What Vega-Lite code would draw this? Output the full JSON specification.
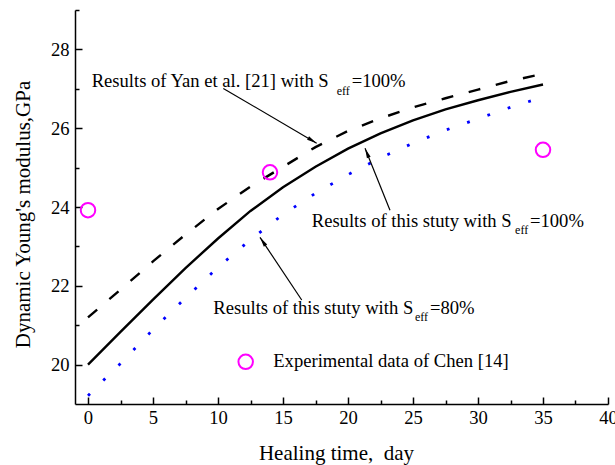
{
  "$schema": "https://vega.github.io/schema/vega-lite/v6.json",
  "width": 533,
  "height": 394,
  "autosize": "none",
  "padding": {"left": 75, "top": 10, "right": 7, "bottom": 61},
  "background": "white",
  "config": {"view": {"stroke": null}, "font": "Liberation Serif"},
  "datasets": {
    "curves": [
      {"s": "yan", "x": 0, "y": 21.2}, {"s": "yan", "x": 2.5, "y": 21.9}, {"s": "yan", "x": 5, "y": 22.62}, {"s": "yan", "x": 7.5, "y": 23.3}, {"s": "yan", "x": 10, "y": 23.95}, {"s": "yan", "x": 12.5, "y": 24.52}, {"s": "yan", "x": 15, "y": 25.02}, {"s": "yan", "x": 17.5, "y": 25.52}, {"s": "yan", "x": 20, "y": 25.93}, {"s": "yan", "x": 22.5, "y": 26.25}, {"s": "yan", "x": 25, "y": 26.53}, {"s": "yan", "x": 27.5, "y": 26.76}, {"s": "yan", "x": 30, "y": 26.98}, {"s": "yan", "x": 32.5, "y": 27.2}, {"s": "yan", "x": 35, "y": 27.38},
      {"s": "s100", "x": 0, "y": 20.0}, {"s": "s100", "x": 2.5, "y": 20.83}, {"s": "s100", "x": 5, "y": 21.65}, {"s": "s100", "x": 7.5, "y": 22.45}, {"s": "s100", "x": 10, "y": 23.2}, {"s": "s100", "x": 12.5, "y": 23.9}, {"s": "s100", "x": 15, "y": 24.5}, {"s": "s100", "x": 17.5, "y": 25.02}, {"s": "s100", "x": 20, "y": 25.48}, {"s": "s100", "x": 22.5, "y": 25.87}, {"s": "s100", "x": 25, "y": 26.2}, {"s": "s100", "x": 27.5, "y": 26.48}, {"s": "s100", "x": 30, "y": 26.71}, {"s": "s100", "x": 32.5, "y": 26.92}, {"s": "s100", "x": 35, "y": 27.11},
      {"s": "s80", "x": 0, "y": 19.21}, {"s": "s80", "x": 2.5, "y": 20.03}, {"s": "s80", "x": 5, "y": 20.89}, {"s": "s80", "x": 7.5, "y": 21.69}, {"s": "s80", "x": 10, "y": 22.47}, {"s": "s80", "x": 12.5, "y": 23.17}, {"s": "s80", "x": 15, "y": 23.81}, {"s": "s80", "x": 17.5, "y": 24.35}, {"s": "s80", "x": 20, "y": 24.82}, {"s": "s80", "x": 22.5, "y": 25.25}, {"s": "s80", "x": 25, "y": 25.62}, {"s": "s80", "x": 27.5, "y": 25.95}, {"s": "s80", "x": 30, "y": 26.24}, {"s": "s80", "x": 32.5, "y": 26.53}, {"s": "s80", "x": 35, "y": 26.79}
    ],
    "exp": [
      {"x": 0, "y": 23.92}, {"x": 14, "y": 24.88}, {"x": 35, "y": 25.45}
    ],
    "legend": [
      {"x": 12.13, "y": 20.07}
    ],
    "texts": [
      {"k": "main", "t": "Results of Yan et al. [21] with S", "x": 0.28, "y": 27.05},
      {"k": "sub", "t": "eff", "x": 19.13, "y": 26.84},
      {"k": "main", "t": "=100%", "x": 20.28, "y": 27.05},
      {"k": "main", "t": "Results of this stuty with S", "x": 17.21, "y": 23.5},
      {"k": "sub", "t": "eff", "x": 32.85, "y": 23.31},
      {"k": "main", "t": "=100%", "x": 34.0, "y": 23.5},
      {"k": "main", "t": "Results of this stuty with S", "x": 9.64, "y": 21.28},
      {"k": "sub", "t": "eff", "x": 25.15, "y": 21.11},
      {"k": "main", "t": "=80%", "x": 26.3, "y": 21.28},
      {"k": "main", "t": "Experimental data of Chen [14]", "x": 14.25, "y": 19.93}
    ],
    "arrows": [
      {"id": "a1", "x": 10.41, "y": 27.01, "x2": 17.59, "y2": 25.62},
      {"id": "a2", "x": 23.23, "y": 23.92, "x2": 21.31, "y2": 25.49},
      {"id": "a3", "x": 16.44, "y": 21.64, "x2": 13.23, "y2": 23.23}
    ],
    "heads": [
      {"id": "a1", "x": 17.59, "y": 25.62},
      {"id": "a2", "x": 21.31, "y": 25.49},
      {"id": "a3", "x": 13.23, "y": 23.23}
    ]
  },
  "encoding": {
    "x": {"field": "x", "type": "quantitative", "scale": {"domain": [-1, 40], "nice": false, "zero": false},
      "axis": {
        "title": "Healing time,\u00a0 day",
        "values": [0, 2.5, 5, 7.5, 10, 12.5, 15, 17.5, 20, 22.5, 25, 27.5, 30, 32.5, 35, 37.5, 40],
        "format": ".0f",
        "labelExpr": "datum.value % 5 === 0 ? datum.label : ''",
        "tickSize": {"condition": {"test": "datum.value % 5 === 0", "value": -7}, "value": -4},
        "grid": false, "domainColor": "black", "domainWidth": 1.5, "tickColor": "black", "tickWidth": 1.5,
        "labelFont": "Liberation Serif", "labelFontSize": 18.6, "labelColor": "black", "labelPadding": 11, "labelFlush": false,
        "titleFont": "Liberation Serif", "titleFontSize": 21, "titleFontWeight": "normal", "titleColor": "black", "titlePadding": 16,
        "titleX": 261
      }},
    "y": {"field": "y", "type": "quantitative", "scale": {"domain": [19, 29], "nice": false, "zero": false},
      "axis": {
        "title": "Dynamic Young's modulus,GPa",
        "values": [20, 21, 22, 23, 24, 25, 26, 27, 28, 29],
        "format": "d",
        "labelExpr": "datum.value % 2 === 0 ? datum.label : ''",
        "tickSize": {"condition": {"test": "datum.value % 2 === 0", "value": -7}, "value": -4},
        "grid": false, "domainColor": "black", "domainWidth": 1.5, "tickColor": "black", "tickWidth": 1.5,
        "labelFont": "Liberation Serif", "labelFontSize": 18.6, "labelColor": "black", "labelPadding": 13, "labelFlush": false,
        "titleFont": "Liberation Serif", "titleFontSize": 21, "titleFontWeight": "normal", "titleColor": "black", "titlePadding": 17,
        "titleY": 204
      }}
  },
  "layer": [
    {
      "data": {"name": "curves"},
      "transform": [{"filter": "datum.s === 'yan'"}],
      "mark": {"type": "line", "color": "black", "strokeWidth": 2.4, "strokeDash": [12, 16], "strokeCap": "butt"}
    },
    {
      "data": {"name": "curves"},
      "transform": [{"filter": "datum.s === 's100'"}],
      "mark": {"type": "line", "color": "black", "strokeWidth": 2.4}
    },
    {
      "data": {"name": "curves"},
      "transform": [{"filter": "datum.s === 's80'"}],
      "mark": {"type": "line", "color": "#0000ff", "strokeWidth": 2.8, "strokeDash": [2.8, 18.7], "strokeCap": "butt"}
    },
    {
      "data": {"name": "exp"},
      "mark": {"type": "point", "shape": "circle", "filled": false, "stroke": "#ff00ff", "strokeWidth": 2, "size": 210, "opacity": 1}
    },
    {
      "data": {"name": "legend"},
      "mark": {"type": "point", "shape": "circle", "filled": false, "stroke": "#ff00ff", "strokeWidth": 2, "size": 210, "opacity": 1}
    },
    {
      "data": {"name": "arrows"},
      "mark": {"type": "rule", "color": "black", "strokeWidth": 1.2},
      "encoding": {
        "x2": {"field": "x2"},
        "y2": {"field": "y2"}
      }
    },
    {
      "data": {"name": "heads"},
      "transform": [{"filter": "datum.id === 'a1'"}],
      "mark": {"type": "point", "shape": "M0,0L-0.2,1L0.2,1Z", "filled": true, "color": "black", "size": 400, "angle": 120.5, "opacity": 1}
    },
    {
      "data": {"name": "heads"},
      "transform": [{"filter": "datum.id === 'a2'"}],
      "mark": {"type": "point", "shape": "M0,0L-0.2,1L0.2,1Z", "filled": true, "color": "black", "size": 400, "angle": 338, "opacity": 1}
    },
    {
      "data": {"name": "heads"},
      "transform": [{"filter": "datum.id === 'a3'"}],
      "mark": {"type": "point", "shape": "M0,0L-0.2,1L0.2,1Z", "filled": true, "color": "black", "size": 400, "angle": 326.4, "opacity": 1}
    },
    {
      "data": {"name": "texts"},
      "transform": [{"filter": "datum.k === 'main'"}],
      "mark": {"type": "text", "align": "left", "baseline": "alphabetic", "font": "Liberation Serif", "fontSize": 18.6, "color": "black"},
      "encoding": {"text": {"field": "t"}}
    },
    {
      "data": {"name": "texts"},
      "transform": [{"filter": "datum.k === 'sub'"}],
      "mark": {"type": "text", "align": "left", "baseline": "alphabetic", "font": "Liberation Serif", "fontSize": 12, "color": "black"},
      "encoding": {"text": {"field": "t"}}
    }
  ]
}
